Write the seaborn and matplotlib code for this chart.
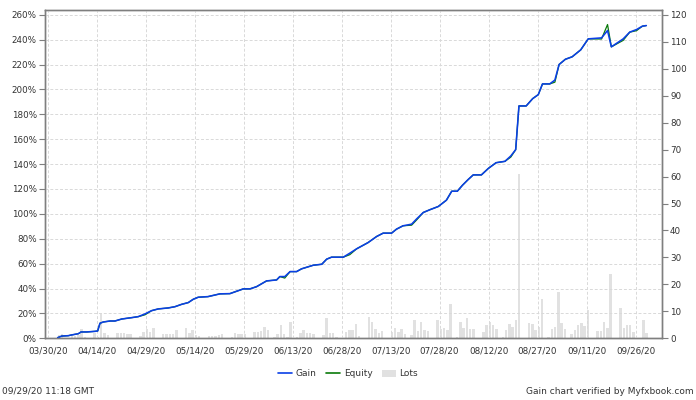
import numpy as np
import pandas as pd
import matplotlib
matplotlib.use("Agg")
import matplotlib.pyplot as plt
import matplotlib.dates as mdates
from matplotlib.lines import Line2D
from matplotlib.patches import Patch
import seaborn as sns

# gain / equity curve (percent)
gain_dates = [
    "2020-04-02 01:00", "2020-04-03 07:00", "2020-04-05 07:00", "2020-04-06 08:00",
    "2020-04-08 09:00", "2020-04-09 05:00", "2020-04-10 23:00", "2020-04-13 12:00",
    "2020-04-14 07:00", "2020-04-15 00:00", "2020-04-16 00:00", "2020-04-18 02:00",
    "2020-04-19 14:00", "2020-04-21 16:00", "2020-04-24 17:00", "2020-04-26 17:00",
    "2020-04-28 19:00", "2020-04-30 19:00", "2020-05-02 20:00", "2020-05-05 22:00",
    "2020-05-07 23:00", "2020-05-10 00:00", "2020-05-12 01:00", "2020-05-13 14:00",
    "2020-05-15 02:00", "2020-05-18 02:00", "2020-05-21 17:00", "2020-05-24 19:00",
    "2020-05-28 21:00", "2020-05-30 22:00", "2020-06-01 23:00", "2020-06-05 00:00",
    "2020-06-08 02:00", "2020-06-09 02:00", "2020-06-10 14:00", "2020-06-12 05:00",
    "2020-06-14 05:00", "2020-06-15 17:00", "2020-06-19 07:00", "2020-06-21 22:00",
    "2020-06-23 10:00", "2020-06-24 22:00", "2020-06-28 12:00", "2020-06-30 12:00",
    "2020-07-02 14:00", "2020-07-06 02:00", "2020-07-08 17:00", "2020-07-10 17:00",
    "2020-07-13 07:00", "2020-07-14 19:00", "2020-07-16 19:00", "2020-07-19 10:00",
    "2020-07-20 22:00", "2020-07-23 00:00", "2020-07-25 00:00", "2020-07-27 14:00",
    "2020-07-30 02:00", "2020-07-31 17:00", "2020-08-02 10:00", "2020-08-04 00:00",
    "2020-08-05 17:00", "2020-08-07 07:00", "2020-08-09 19:00", "2020-08-11 22:00",
    "2020-08-14 07:00", "2020-08-17 00:00", "2020-08-18 19:00", "2020-08-20 07:00",
    "2020-08-21 07:00", "2020-08-23 12:00", "2020-08-25 12:00", "2020-08-27 05:00",
    "2020-08-28 12:00", "2020-08-30 17:00", "2020-09-01 07:00", "2020-09-02 14:00",
    "2020-09-04 12:00", "2020-09-06 14:00", "2020-09-09 05:00", "2020-09-11 12:00",
    "2020-09-15 14:00", "2020-09-17 10:00", "2020-09-18 14:00", "2020-09-22 05:00",
    "2020-09-24 05:00", "2020-09-26 07:00", "2020-09-28 02:00", "2020-09-29 07:00",
]
gain_pct = [
    0.5, 1.8, 2.1, 2.7, 3.7, 5.1, 5.1, 5.6, 5.9, 12.1, 13.1, 13.9,
    13.9, 15.5, 16.6, 17.4, 19.6, 22.2, 23.6, 24.4, 25.4, 27.3, 28.7, 31.4,
    33.0, 33.5, 35.7, 35.9, 39.7, 39.7, 41.5, 46.1, 46.9, 49.6, 49.6, 53.6,
    53.6, 55.8, 58.7, 59.5, 63.6, 65.2, 65.2, 68.4, 71.9, 76.9, 81.8, 84.5,
    84.5, 87.7, 90.4, 91.7, 95.8, 101.1, 103.3, 105.9, 111.0, 118.2, 118.2, 123.0,
    127.5, 131.3, 131.3, 136.5, 141.1, 142.2, 146.5, 151.6, 186.7, 186.7, 192.6, 195.8,
    204.4, 204.4, 207.5, 220.0, 224.2, 226.2, 231.8, 240.6, 241.4, 247.3, 234.2, 240.6,
    246.0, 248.1, 250.8, 251.3,
]
equity_pct = [
    0.5, 1.8, 2.1, 2.7, 3.7, 5.1, 5.1, 5.6, 5.9, 12.1, 13.1, 13.9,
    13.9, 15.5, 16.6, 17.4, 18.9, 22.2, 23.6, 24.4, 25.4, 27.3, 28.7, 31.4,
    33.0, 33.5, 35.7, 35.9, 39.7, 39.7, 41.5, 46.1, 46.9, 49.6, 48.4, 53.6,
    53.6, 55.8, 58.7, 59.5, 63.6, 65.2, 65.2, 67.2, 71.9, 76.9, 81.8, 84.5,
    84.5, 87.7, 90.4, 90.9, 95.0, 101.1, 103.3, 105.9, 111.0, 118.2, 118.2, 123.0,
    127.5, 131.3, 131.3, 136.5, 141.1, 142.2, 145.6, 151.6, 186.7, 186.7, 192.6, 195.8,
    204.4, 204.4, 205.8, 220.0, 224.2, 226.2, 231.8, 240.6, 240.5, 252.1, 234.2, 239.4,
    246.0, 247.2, 250.8, 251.3,
]

# traded lots per day
lot_dates = [
    "2020-04-02", "2020-04-03",
    "2020-04-06", "2020-04-07", "2020-04-08", "2020-04-09", "2020-04-10",
    "2020-04-13", "2020-04-14", "2020-04-15", "2020-04-16", "2020-04-17",
    "2020-04-20", "2020-04-21", "2020-04-22", "2020-04-23", "2020-04-24",
    "2020-04-27", "2020-04-28", "2020-04-29", "2020-04-30", "2020-05-01",
    "2020-05-04", "2020-05-05", "2020-05-06", "2020-05-07", "2020-05-08",
    "2020-05-11", "2020-05-12", "2020-05-13", "2020-05-14", "2020-05-15",
    "2020-05-18", "2020-05-19", "2020-05-20", "2020-05-21", "2020-05-22",
    "2020-05-25", "2020-05-26", "2020-05-27", "2020-05-28", "2020-05-29",
    "2020-06-01", "2020-06-02", "2020-06-03", "2020-06-04", "2020-06-05",
    "2020-06-07", "2020-06-08", "2020-06-09", "2020-06-10", "2020-06-11", "2020-06-12",
    "2020-06-14", "2020-06-15", "2020-06-16", "2020-06-17", "2020-06-18", "2020-06-19",
    "2020-06-22", "2020-06-23", "2020-06-24", "2020-06-25", "2020-06-26",
    "2020-06-29", "2020-06-30", "2020-07-01", "2020-07-02", "2020-07-03",
    "2020-07-06", "2020-07-07", "2020-07-08", "2020-07-09", "2020-07-10",
    "2020-07-13", "2020-07-14", "2020-07-15", "2020-07-16", "2020-07-17",
    "2020-07-19", "2020-07-20", "2020-07-21", "2020-07-22", "2020-07-23", "2020-07-24",
    "2020-07-27", "2020-07-28", "2020-07-29", "2020-07-30", "2020-07-31",
    "2020-08-02", "2020-08-03", "2020-08-04", "2020-08-05", "2020-08-06", "2020-08-07",
    "2020-08-10", "2020-08-11", "2020-08-12", "2020-08-13", "2020-08-14",
    "2020-08-16", "2020-08-17", "2020-08-18", "2020-08-19", "2020-08-20", "2020-08-21",
    "2020-08-24", "2020-08-25", "2020-08-26", "2020-08-27", "2020-08-28",
    "2020-08-30", "2020-08-31", "2020-09-01", "2020-09-02", "2020-09-03", "2020-09-04",
    "2020-09-06", "2020-09-07", "2020-09-08", "2020-09-09", "2020-09-10", "2020-09-11",
    "2020-09-14", "2020-09-15", "2020-09-16", "2020-09-17", "2020-09-18",
    "2020-09-21", "2020-09-22", "2020-09-23", "2020-09-24", "2020-09-25",
    "2020-09-28", "2020-09-29",
]
lots = [
    1.1, 1.6,
    0.9, 1.0, 1.2, 3.4, 0.6,
    2.1, 0.4, 9.5, 1.9, 1.2,
    1.9, 2.1, 1.9, 1.7, 1.7,
    1.0, 2.3, 3.4, 2.4, 3.8,
    1.5, 1.5, 1.5, 1.5, 3.0,
    3.7, 2.1, 3.1, 1.2, 1.0,
    1.0, 1.0, 0.7, 1.4, 1.5,
    0.6, 2.1, 1.5, 1.5, 1.7,
    2.2, 2.3, 2.7, 4.2, 3.0,
    0.5, 1.7, 5.1, 1.7, 0.6, 6.1,
    0.6, 2.0, 3.1, 2.0, 1.9, 1.5,
    1.2, 7.5, 2.1, 2.1, 0.6,
    2.2, 3.2, 3.0, 5.3, 1.0,
    7.8, 6.1, 3.3, 2.1, 2.6,
    2.2, 3.8, 2.5, 3.5, 1.7,
    1.1, 6.8, 2.8, 6.1, 3.2, 2.6,
    6.8, 3.5, 3.8, 3.1, 12.8,
    0.4, 6.1, 3.8, 7.5, 3.6, 3.5,
    2.5, 4.9, 6.2, 4.9, 3.3,
    0.4, 3.1, 5.4, 4.3, 6.7, 60.9,
    5.8, 5.4, 3.1, 4.2, 14.6,
    0.5, 3.5, 4.2, 17.2, 5.6, 3.5,
    1.6, 3.0, 5.1, 5.6, 4.7, 10.4,
    2.8, 2.8, 6.1, 4.0, 23.9,
    11.4, 3.7, 5.1, 4.8, 2.2,
    6.7, 2.1,
]

tick_dates = ["2020-03-30", "2020-04-14", "2020-04-29", "2020-05-14", "2020-05-29",
              "2020-06-13", "2020-06-28", "2020-07-13", "2020-07-28", "2020-08-12",
              "2020-08-27", "2020-09-11", "2020-09-26"]

gain_df = pd.DataFrame({"date": pd.to_datetime(gain_dates), "gain": gain_pct, "equity": equity_pct})
lots_df = pd.DataFrame({"date": pd.to_datetime(lot_dates), "lots": lots})

sns.set_style("white")
plt.rcParams["font.family"] = ["DejaVu Sans"]

BLUE = "#0b3fe6"
GREEN = "#0a7a0a"
BAR = "#e1e1e1"
AXC = "#7f7f7f"
TXT = "#333333"

fig = plt.figure(figsize=(6.96, 4.0), dpi=100)
ax = fig.add_axes([45 / 696, 61.7 / 400, 616.7 / 696, 328.3 / 400])
ax2 = ax.twinx()

# lots bars on right axis
ax2.bar(lots_df["date"], lots_df["lots"], width=0.75, align="edge", color=BAR, linewidth=0)
ax2.set_ylim(0, 121.8)
ax2.set_yticks(np.arange(0, 121, 10))

# gain / equity lines on left axis, drawn above the bars
ax.set_zorder(ax2.get_zorder() + 1)
ax.patch.set_visible(False)
sns.lineplot(data=gain_df, x="date", y="equity", ax=ax, color=GREEN, lw=0.9)
sns.lineplot(data=gain_df, x="date", y="gain", ax=ax, color=BLUE, lw=1.15)

ax.set_ylim(0, 263.8)
ax.set_yticks(np.arange(0, 261, 20))
ax.set_yticklabels([f"{v}%" for v in range(0, 261, 20)])
ax.set_xlim(pd.Timestamp("2020-03-29 04:00"), pd.Timestamp("2020-10-04 00:00"))
ax.set_xticks(pd.to_datetime(tick_dates))
ax.xaxis.set_major_formatter(mdates.DateFormatter("%m/%d/%y"))
ax.set_xlabel("")
ax.set_ylabel("")
ax2.set_ylabel("")

ax.grid(True, color="#d9d9d9", linestyle=(0, (3, 2)), linewidth=0.7)

for a in (ax, ax2):
    for s in a.spines.values():
        s.set_color(AXC)
        s.set_linewidth(1.0)
    a.tick_params(axis="both", which="major", length=4, width=0.8, color=AXC,
                  labelsize=6.3, labelcolor=TXT, pad=2)

handles = [Line2D([], [], color=BLUE, lw=1.2),
           Line2D([], [], color=GREEN, lw=1.2),
           Patch(facecolor=BAR, edgecolor="none")]
fig.legend(handles, ["Gain", "Equity", "Lots"], loc="center", ncol=3,
           bbox_to_anchor=(0.5, 1 - 374 / 400), frameon=False, fontsize=6.5,
           handlelength=1.6, handleheight=0.9, handletextpad=0.4, columnspacing=1.0,
           labelcolor=TXT)

fig.text(2 / 696, 1 - 391 / 400, "09/29/20 11:18 GMT", ha="left", va="center",
         fontsize=6.5, color=TXT)
fig.text(694 / 696, 1 - 391 / 400, "Gain chart verified by Myfxbook.com", ha="right",
         va="center", fontsize=6.5, color=TXT)

fig.savefig("out.png", dpi=100)
